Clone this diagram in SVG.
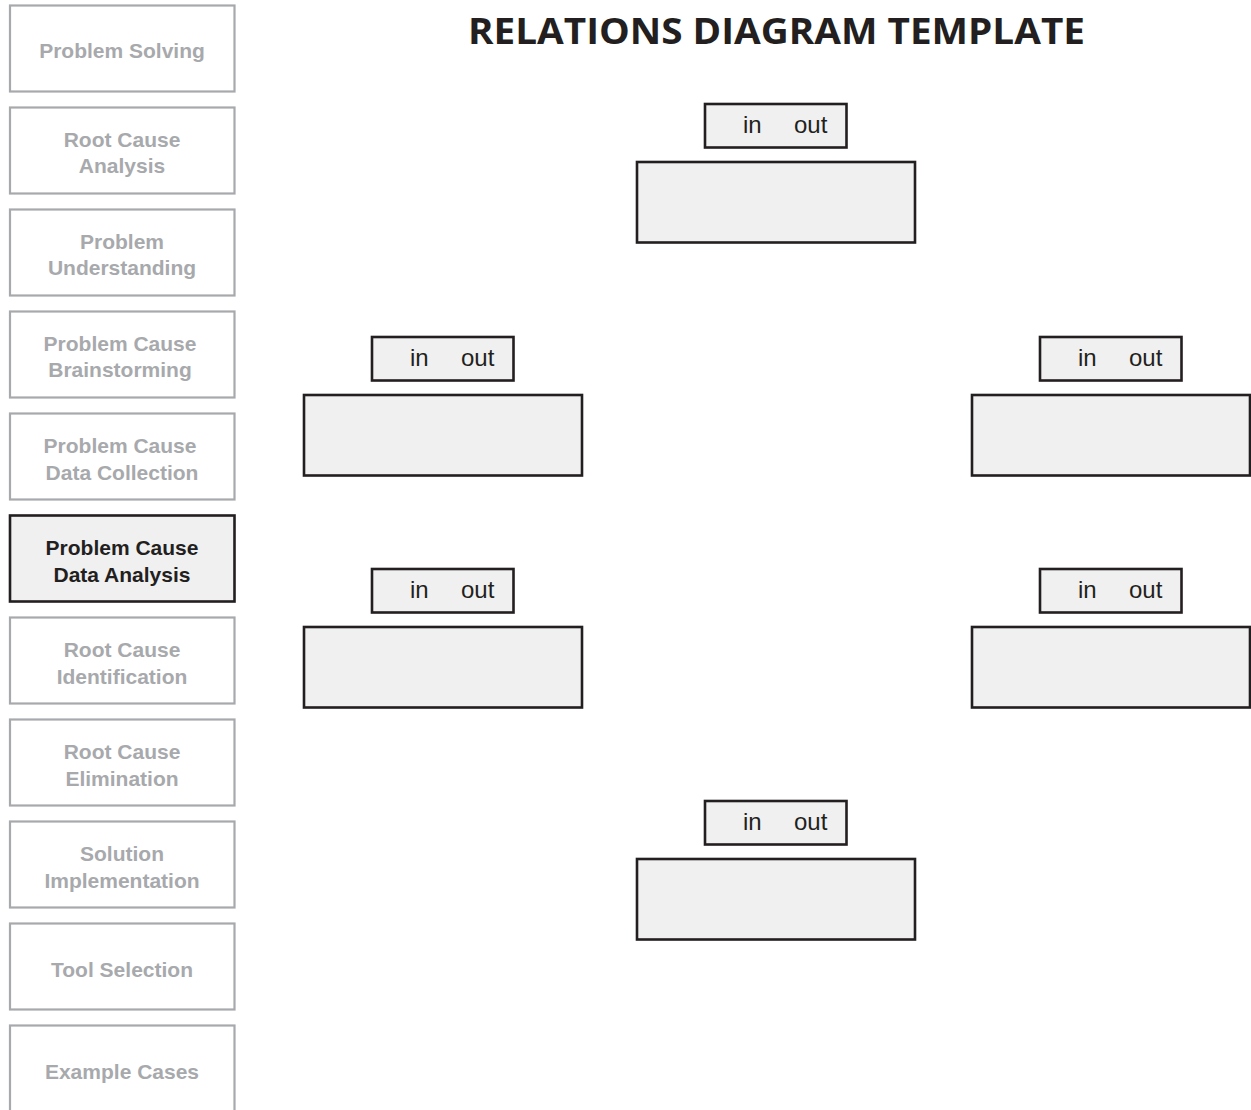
<svg xmlns="http://www.w3.org/2000/svg" width="1251" height="1110" viewBox="0 0 1251 1110">
<style>
.nav rect{fill:#ffffff;stroke:#a7a9ac;stroke-width:2.2}
.nav text{font-family:"Liberation Sans",Arial,sans-serif;font-weight:bold;font-size:21px;fill:#a7a9ac;text-anchor:middle}
.nav.active rect{fill:#f0f0f0;stroke:#231f20;stroke-width:2.6}
.nav.active text{fill:#231f20}
.title{font-family:"Open Sans","Noto Sans",sans-serif;font-weight:bold;font-size:36px;fill:#231f20;text-anchor:middle}
.node rect{fill:#f0f0f0;stroke:#231f20;stroke-width:2.6}
.node text{font-family:"Liberation Sans",Arial,sans-serif;font-size:24px;fill:#231f20}
</style>
<rect x="0" y="0" width="1251" height="1110" fill="#ffffff"/>
<g id="nav-problem-solving" class="nav"><rect x="10" y="5.5" width="224.5" height="86"/><text x="122" y="58">Problem Solving</text></g>
<g id="nav-root-cause-analysis" class="nav"><rect x="10" y="107.5" width="224.5" height="86"/><text x="122" y="147">Root Cause</text><text x="122" y="173">Analysis</text></g>
<g id="nav-problem-understanding" class="nav"><rect x="10" y="209.5" width="224.5" height="86"/><text x="122" y="249">Problem</text><text x="122" y="275">Understanding</text></g>
<g id="nav-brainstorming" class="nav"><rect x="10" y="311.5" width="224.5" height="86"/><text x="120" y="351">Problem Cause</text><text x="120" y="377">Brainstorming</text></g>
<g id="nav-data-collection" class="nav"><rect x="10" y="413.5" width="224.5" height="86"/><text x="120" y="453">Problem Cause</text><text x="122" y="480">Data Collection</text></g>
<g id="nav-data-analysis" class="nav active"><rect x="10" y="515.5" width="224.5" height="86"/><text x="122" y="555">Problem Cause</text><text x="122" y="582">Data Analysis</text></g>
<g id="nav-root-cause-identification" class="nav"><rect x="10" y="617.5" width="224.5" height="86"/><text x="122" y="657">Root Cause</text><text x="122" y="684">Identification</text></g>
<g id="nav-root-cause-elimination" class="nav"><rect x="10" y="719.5" width="224.5" height="86"/><text x="122" y="759">Root Cause</text><text x="122" y="786">Elimination</text></g>
<g id="nav-solution-implementation" class="nav"><rect x="10" y="821.5" width="224.5" height="86"/><text x="122" y="861">Solution</text><text x="122" y="888">Implementation</text></g>
<g id="nav-tool-selection" class="nav"><rect x="10" y="923.5" width="224.5" height="86"/><text x="122" y="977">Tool Selection</text></g>
<g id="nav-example-cases" class="nav"><rect x="10" y="1025.5" width="224.5" height="86"/><text x="122" y="1079">Example Cases</text></g>
<text id="title" class="title" x="776.5" y="44" textLength="617" lengthAdjust="spacingAndGlyphs">RELATIONS DIAGRAM TEMPLATE</text>
<g id="node-top" class="node"><rect x="705" y="104" width="141.5" height="43.5"/><rect x="637" y="162" width="278" height="80.5"/><text x="743" y="133">in</text><text x="794" y="133">out</text></g>
<g id="node-left-1" class="node" transform="translate(-333,233)"><rect x="705" y="104" width="141.5" height="43.5"/><rect x="637" y="162" width="278" height="80.5"/><text x="743" y="133">in</text><text x="794" y="133">out</text></g>
<g id="node-right-1" class="node" transform="translate(335,233)"><rect x="705" y="104" width="141.5" height="43.5"/><rect x="637" y="162" width="278" height="80.5"/><text x="743" y="133">in</text><text x="794" y="133">out</text></g>
<g id="node-left-2" class="node" transform="translate(-333,465)"><rect x="705" y="104" width="141.5" height="43.5"/><rect x="637" y="162" width="278" height="80.5"/><text x="743" y="133">in</text><text x="794" y="133">out</text></g>
<g id="node-right-2" class="node" transform="translate(335,465)"><rect x="705" y="104" width="141.5" height="43.5"/><rect x="637" y="162" width="278" height="80.5"/><text x="743" y="133">in</text><text x="794" y="133">out</text></g>
<g id="node-bottom" class="node" transform="translate(0,697)"><rect x="705" y="104" width="141.5" height="43.5"/><rect x="637" y="162" width="278" height="80.5"/><text x="743" y="133">in</text><text x="794" y="133">out</text></g>
<g id="connectors"></g>
</svg>
